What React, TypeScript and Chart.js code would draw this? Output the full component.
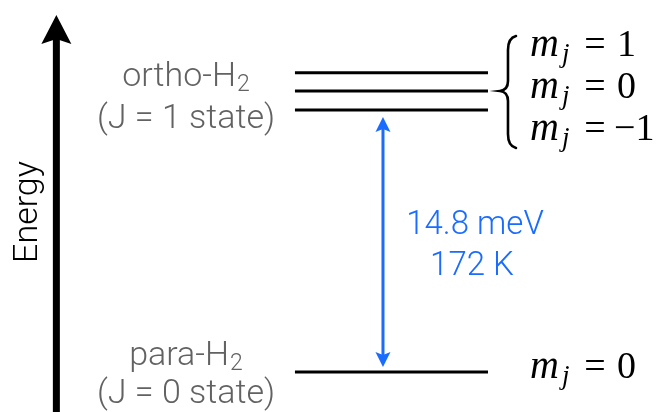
import React, { useEffect, useRef, useState } from 'react';
import { Chart, registerables } from 'chart.js';

Chart.register(...registerables);

// ---- data (schematic energy-level diagram, energies in meV) ----
const levelStart = 0;
const levelEnd = 1;
const paraEnergies = [0];
const orthoEnergies = [16.9, 15.87, 14.8]; // m_j = 1, 0, -1 (schematic splitting)
const orthoMj = ['1', '0', '\u22121'];
const paraMj = ['0'];
const orthoLabel = ['ortho-H', '(J = 1 state)'];
const paraLabel = ['para-H', '(J = 0 state)'];
const gapLabels = ['14.8 meV', '172 K'];
const gapMeV = 14.8;
const transitionX = 0.456;
const energyAxisX = -1.236;
const energyAxisTop = 20.16;
const axisTitle = 'Energy';
const xRange = [-1.528, 1.917];
const yRange = [-2.26, 21.01];

const BLUE = '#1a6cff';
const GRAY = '#626262';
const SANS = '"Helvetica Neue", Roboto, Arial, sans-serif';
const SERIF_FAMILY = "'Liberation Serif', 'Times New Roman', 'DejaVu Serif', serif";

type MathRow = { x: number; y: number; v: string };

function arrowHead(ctx: CanvasRenderingContext2D, x: number, tipY: number, dir: number, w: number, len: number, notch: number) {
  ctx.beginPath();
  ctx.moveTo(x, tipY);
  ctx.lineTo(x - w / 2, tipY - dir * len);
  ctx.lineTo(x, tipY - dir * (len - notch));
  ctx.lineTo(x + w / 2, tipY - dir * len);
  ctx.closePath();
  ctx.fill();
}

const overlay = {
  id: 'overlay',
  afterDatasetsDraw(chart: any) {
    const ctx: CanvasRenderingContext2D = chart.ctx;
    const xs = chart.scales.x;
    const ys = chart.scales.y;
    const area = chart.chartArea;
    ctx.save();
    const orthoMid = ys.getPixelForValue(orthoEnergies[1]);
    const paraY = ys.getPixelForValue(paraEnergies[0]);

    // brace
    const bx = xs.getPixelForValue(levelEnd) + 20;
    const bTop = orthoMid - 55;
    const bBot = orthoMid + 57;
    ctx.strokeStyle = '#000';
    ctx.lineWidth = 2.6;
    ctx.lineCap = 'round';
    ctx.beginPath();
    ctx.moveTo(bx + 8, bTop);
    ctx.quadraticCurveTo(bx, bTop + 2, bx, bTop + 14);
    ctx.lineTo(bx, orthoMid - 10);
    ctx.quadraticCurveTo(bx, orthoMid - 1, bx - 8, orthoMid);
    ctx.quadraticCurveTo(bx, orthoMid + 1, bx, orthoMid + 10);
    ctx.lineTo(bx, bBot - 14);
    ctx.quadraticCurveTo(bx, bBot - 2, bx + 8, bBot);
    ctx.stroke();

    // Energy axis arrow
    const ax = xs.getPixelForValue(energyAxisX);
    const aTop = ys.getPixelForValue(energyAxisTop);
    ctx.fillStyle = '#000';
    ctx.fillRect(ax - 3.5, aTop + 20, 7, area.bottom - aTop - 20);
    arrowHead(ctx, ax, aTop, -1, 30, 29, 5);

    // axis title
    ctx.save();
    ctx.translate(ax - 19, 212);
    ctx.rotate(-Math.PI / 2);
    ctx.font = `300 34px ${SANS}`;
    ctx.textAlign = 'center';
    ctx.textBaseline = 'alphabetic';
    ctx.fillStyle = '#000';
    ctx.fillText(axisTitle, 0, 0);
    ctx.restore();

    // transition arrow
    const tx = xs.getPixelForValue(transitionX);
    const yLow = paraY - 5;
    const yHigh = ys.getPixelForValue(gapMeV) + 7;
    ctx.strokeStyle = BLUE;
    ctx.fillStyle = BLUE;
    ctx.lineWidth = 3;
    ctx.beginPath();
    ctx.moveTo(tx, yHigh + 10);
    ctx.lineTo(tx, yLow - 10);
    ctx.stroke();
    arrowHead(ctx, tx, yHigh, -1, 15, 15, 3);
    arrowHead(ctx, tx, yLow, 1, 15, 15, 3);

    // gap labels
    const midY = (yLow + yHigh) / 2;
    ctx.font = `300 33px ${SANS}`;
    ctx.textAlign = 'center';
    ctx.textBaseline = 'alphabetic';
    ctx.fillText(gapLabels[0], tx + 92, midY - 8);
    ctx.fillText(gapLabels[1], tx + 89, midY + 33);

    // state labels
    const labelX = 186;
    const drawStateLabel = (lines: string[], baseTop: number, gap: number) => {
      ctx.fillStyle = GRAY;
      ctx.textBaseline = 'alphabetic';
      ctx.font = `300 34px ${SANS}`;
      const w1 = ctx.measureText(lines[0]).width;
      ctx.font = `300 23px ${SANS}`;
      const w2 = ctx.measureText('2').width;
      const left = labelX - (w1 + w2 + 1) / 2;
      ctx.textAlign = 'left';
      ctx.font = `300 34px ${SANS}`;
      ctx.fillText(lines[0], left, baseTop);
      ctx.font = `300 23px ${SANS}`;
      ctx.fillText('2', left + w1 + 1, baseTop + 5);
      ctx.font = `300 34px ${SANS}`;
      ctx.textAlign = 'center';
      ctx.fillText(lines[1], labelX, baseTop + gap);
    };
    drawStateLabel(orthoLabel, orthoMid - 5, 42);
    drawStateLabel(paraLabel, paraY - 7, 38);

    ctx.restore();
  },
};

export default function App() {
  const ref = useRef<HTMLCanvasElement>(null);
  const [mathRows, setMathRows] = useState<MathRow[]>([]);
  useEffect(() => {
    if (!ref.current) return;
    const levels = [...orthoEnergies, ...paraEnergies];
    const chart = new Chart(ref.current, {
      type: 'scatter',
      data: {
        datasets: levels.map((e) => ({
          data: [
            { x: levelStart, y: e },
            { x: levelEnd, y: e },
          ],
          showLine: true,
          borderColor: '#000',
          borderWidth: 3,
          pointRadius: 0,
          borderCapStyle: 'butt' as const,
        })),
      },
      options: {
        animation: false,
        responsive: false,
        maintainAspectRatio: false,
        events: [],
        layout: { padding: 0 },
        plugins: { legend: { display: false }, tooltip: { enabled: false } },
        scales: {
          x: { type: 'linear', min: xRange[0], max: xRange[1], display: false },
          y: { type: 'linear', min: yRange[0], max: yRange[1], display: false },
        },
      },
      plugins: [overlay],
    });
    // positions of the m_j labels, taken from the chart's scales
    const xs: any = chart.scales.x;
    const ys: any = chart.scales.y;
    const orthoMid = ys.getPixelForValue(orthoEnergies[1]);
    const paraY = ys.getPixelForValue(paraEnergies[0]);
    const mx = xs.getPixelForValue(levelEnd) + 42;
    const rowGap = 42;
    const rows: MathRow[] = [
      ...orthoMj.map((v, i) => ({ x: mx, y: orthoMid + 7 + (i - 1) * rowGap, v })),
      ...paraMj.map((v) => ({ x: mx, y: paraY + 6, v })),
    ];
    setMathRows(rows);
    return () => chart.destroy();
  }, []);
  return (
    <div style={{ position: 'fixed', left: 0, top: 0, width: 665, height: 412, background: '#fff' }}>
      <canvas ref={ref} width={665} height={412} style={{ position: 'absolute', left: 0, top: 0 }} />
      <svg
        width={665}
        height={412}
        style={{ position: 'absolute', left: 0, top: 0, pointerEvents: 'none' }}
      >
        {mathRows.map((r, i) => (
          <g key={i} fontFamily={SERIF_FAMILY} fill="#000">
            <text x={r.x} y={r.y} fontStyle="italic" fontSize={40}>
              m
            </text>
            <text x={r.x + 32} y={r.y + 6} fontStyle="italic" fontSize={27}>
              j
            </text>
            <text x={r.x + 65} y={r.y} fontSize={38} textAnchor="middle">
              =
            </text>
            <text x={r.x + (r.v.length > 1 ? 84 : 87)} y={r.y} fontSize={38}>
              {r.v}
            </text>
          </g>
        ))}
      </svg>
    </div>
  );
}
